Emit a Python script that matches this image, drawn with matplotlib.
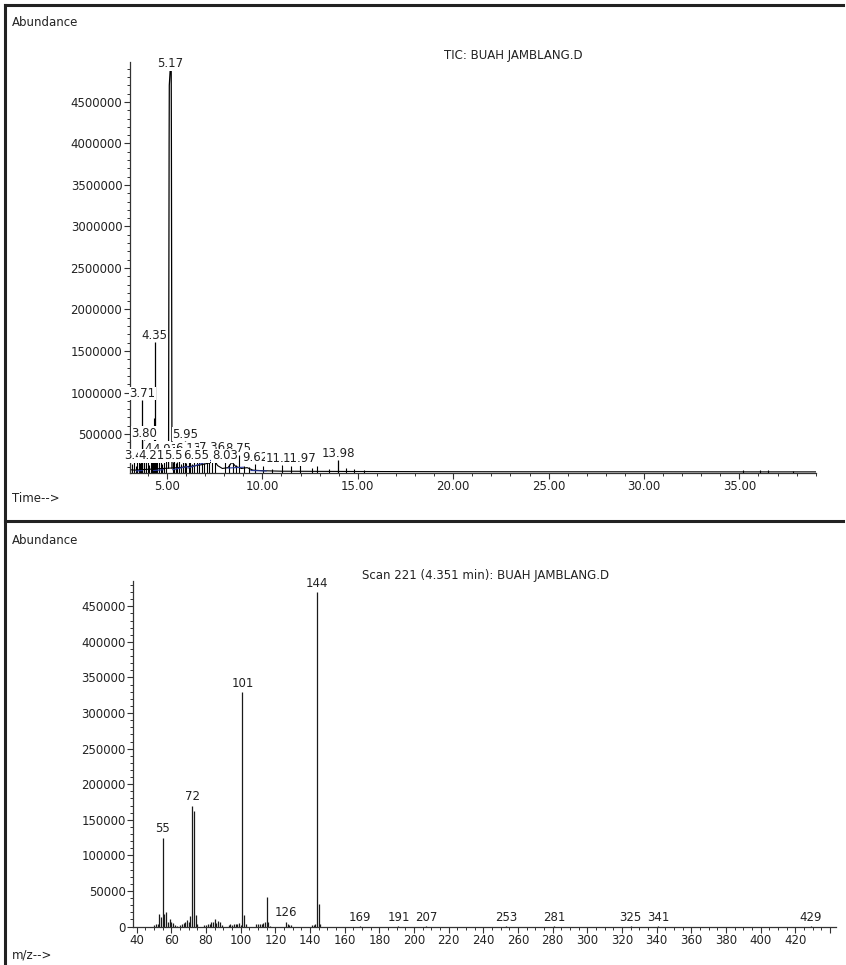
import numpy as np
import matplotlib.pyplot as plt
from matplotlib.lines import Line2D
from matplotlib.ticker import MultipleLocator, FormatStrFormatter, FuncFormatter

plt.rcParams['font.family'] = ['DejaVu Sans']

# ---- TIC chromatogram (top) ----
base_times = [3.05, 3.3, 3.6, 4.0, 4.4, 4.8, 5.2, 5.6, 6.0, 6.4, 6.8, 7.2, 7.5, 7.65, 7.9, 8.2, 8.4,
              8.6, 8.9, 9.2, 9.5, 10.0, 11.0, 13.0, 16.0, 20.0, 25.0, 30.0, 35.0, 39.0]
base_vals = [70000, 65000, 70000, 75000, 80000, 85000, 90000, 95000, 105000, 115000, 130000, 150000,
             175000, 120000, 85000, 95000, 160000, 110000, 85000, 95000, 65000, 58000, 52000, 50000,
             48000, 46000, 45000, 45000, 44000, 44000]

main_peak_times = [5.08, 5.11, 5.12, 5.17, 5.22, 5.23, 5.26]
main_peak_vals = [90000, 4000000, 4700000, 4900000, 4870000, 4000000, 90000]

noise_times = [3.08, 3.18, 3.27, 3.36, 3.52, 3.60, 3.66, 3.90, 3.98, 4.06, 4.14, 4.28, 4.31, 4.42,
               4.58, 4.66, 4.74, 4.82, 5.30, 5.38, 5.46, 5.64, 5.72, 5.82, 6.02, 6.22, 6.32, 6.44,
               6.70, 6.82, 6.95, 7.10, 7.22, 7.50, 8.25, 8.45, 8.60, 9.05, 9.30, 10.05, 10.50,
               11.50, 12.60, 12.85, 13.50, 14.40, 14.80, 15.30, 35.20, 36.10, 36.50, 37.80]
noise_vals = [180000, 140000, 210000, 120000, 230000, 150000, 190000, 170000, 240000, 130000,
              200000, 280000, 690000, 220000, 180000, 250000, 140000, 200000, 160000, 190000,
              150000, 170000, 140000, 160000, 150000, 180000, 140000, 170000, 160000, 180000,
              150000, 190000, 170000, 200000, 140000, 150000, 130000, 110000, 100000, 120000,
              75000, 110000, 85000, 120000, 80000, 90000, 75000, 70000, 65000, 70000, 62000, 60000]

blue_t0 = [3.40, 4.30, 5.30, 6.10, 8.20, 9.40]
blue_t1 = [3.70, 4.80, 6.10, 7.40, 9.00, 10.20]
blue_y0 = [55000, 60000, 70000, 90000, 90000, 60000]
blue_y1 = [60000, 70000, 110000, 190000, 100000, 55000]

# labelled peaks, in three overlapping rows
row_b_times = [4.48, 4.93, 6.13, 7.36, 8.75]
row_b_vals = [250000, 240000, 245000, 255000, 250000]
row_a_times = [3.44, 4.21, 5.53, 6.55, 8.03, 9.62, 11.04, 11.97]
row_a_vals = [160000, 160000, 165000, 160000, 160000, 140000, 130000, 125000]
row_c_times = [3.71, 3.80, 4.35, 5.17, 5.95, 13.98]
row_c_vals = [910000, 430000, 1610000, 4880000, 420000, 190000]

# ---- Mass spectrum, scan 221 (bottom) ----
mz = [50, 51, 52, 53, 54, 55, 56, 57, 58, 59, 60, 61, 62, 63, 65, 66, 67, 68, 69, 70, 71, 72, 73,
      74, 75, 79, 80, 81, 82, 83, 84, 85, 86, 87, 88, 89, 93, 94, 95, 96, 97, 98, 99, 100, 101,
      102, 103, 109, 110, 111, 112, 113, 114, 115, 116, 117, 126, 127, 128, 129, 141, 142, 143,
      144, 145, 146, 169, 191, 207, 253, 281, 325, 341, 429]
intensity = [2000, 3000, 3000, 17000, 13000, 125000, 17000, 21000, 6000, 10000, 7000, 5000, 2000,
             1000, 2000, 3000, 5000, 7000, 9000, 6000, 15000, 170000, 163000, 16000, 3000, 1500,
             2000, 3000, 4000, 6000, 6000, 11000, 5000, 8000, 7000, 2000, 2000, 3000, 2000, 3000,
             4000, 3000, 5000, 2000, 330000, 16000, 3000, 3000, 3000, 4000, 3000, 5000, 6000,
             41000, 6000, 1000, 7000, 3000, 2000, 1500, 2000, 2000, 3000, 470000, 31000, 4000,
             800, 800, 1200, 600, 800, 500, 600, 700]
mz_labels = [55, 72, 101, 126, 144, 169, 191, 207, 253, 281, 325, 341, 429]

FS = 8.5
TXT = '#222222'

fig = plt.figure(figsize=(8.46, 9.65), dpi=100)

# page frame
fig.add_artist(Line2D([5 / 846, 5 / 846], [0, 1 - 5 / 965], transform=fig.transFigure, color='#222222', lw=2.2))
fig.add_artist(Line2D([5 / 846, 843 / 846], [1 - 5 / 965, 1 - 5 / 965], transform=fig.transFigure, color='#222222', lw=2.2))
fig.add_artist(Line2D([5 / 846, 843 / 846], [1 - 521 / 965, 1 - 521 / 965], transform=fig.transFigure, color='#222222', lw=2.2))


def style_axes(ax):
    for s in ['top', 'right']:
        ax.spines[s].set_visible(False)
    for s in ['left', 'bottom']:
        ax.spines[s].set_color('#333333')
        ax.spines[s].set_linewidth(0.9)
    ax.tick_params(which='major', direction='out', length=4, width=0.8, color='#333333',
                   labelsize=FS, labelcolor=TXT, pad=1.5)
    ax.tick_params(which='minor', direction='out', length=2, width=0.7, color='#333333')


# top panel
ax1 = fig.add_axes([130 / 846, 1 - 472.7 / 965, (815.7 - 130) / 846, (472.7 - 61.7) / 965])
style_axes(ax1)
ax1.plot(base_times, base_vals, color='black', lw=0.8)
ax1.vlines(noise_times, 0, noise_vals, color='black', lw=0.8)
ax1.vlines(row_a_times + row_b_times, 0, row_a_vals + row_b_vals, color='black', lw=0.8)
ax1.vlines([t for t in row_c_times if t != 5.17], 0, [v for t, v in zip(row_c_times, row_c_vals) if t != 5.17],
           color='black', lw=0.9)
ax1.plot(main_peak_times, main_peak_vals, color='black', lw=0.9)
for a, b, c, d in zip(blue_t0, blue_t1, blue_y0, blue_y1):
    ax1.plot([a, b], [c, d], color='#2a3a9a', lw=0.8)
ax1.set_xlim(3.06, 39.0)
ax1.set_ylim(34000, 4985000)
ax1.xaxis.set_major_locator(MultipleLocator(5))
ax1.xaxis.set_minor_locator(MultipleLocator(1))
ax1.xaxis.set_major_formatter(FormatStrFormatter('%.2f'))
ax1.yaxis.set_major_locator(MultipleLocator(500000))
ax1.yaxis.set_minor_locator(MultipleLocator(100000))
ax1.yaxis.set_major_formatter(FormatStrFormatter('%d'))

for zo, times, vals in [(3.0, row_b_times, row_b_vals), (3.1, row_a_times, row_a_vals),
                        (3.2, row_c_times, row_c_vals)]:
    for t, v in zip(times, vals):
        ax1.text(t, v, f'{t:.2f}', ha='center', va='bottom', fontsize=FS, color=TXT, zorder=zo,
                 clip_on=False, bbox=dict(fc='white', ec='none', pad=0.3))

fig.text(12 / 846, 1 - 22 / 965, 'Abundance', fontsize=FS, color=TXT, va='center', ha='left')
fig.text(513 / 846, 1 - 55 / 965, 'TIC: BUAH JAMBLANG.D', fontsize=FS, color=TXT, va='center', ha='center')
fig.text(12 / 846, 1 - 499 / 965, 'Time-->', fontsize=FS, color=TXT, va='center', ha='left')

# bottom panel
ax2 = fig.add_axes([133.3 / 846, 1 - 926.5 / 965, (836 - 133.3) / 846, (926.5 - 580.7) / 965])
style_axes(ax2)
ax2.vlines(mz, 0, intensity, color='#1a1a1a', lw=0.9)
ax2.set_xlim(38, 443.5)
ax2.set_ylim(0, 486000)
ax2.xaxis.set_major_locator(MultipleLocator(20))
ax2.xaxis.set_minor_locator(MultipleLocator(5))
ax2.xaxis.set_major_formatter(FuncFormatter(lambda v, p: '' if v > 430 else f'{v:.0f}'))
ax2.yaxis.set_major_locator(MultipleLocator(50000))
ax2.yaxis.set_minor_locator(MultipleLocator(10000))
ax2.yaxis.set_major_formatter(FormatStrFormatter('%d'))

for m in mz_labels:
    ax2.annotate(str(m), (m, intensity[mz.index(m)]), xytext=(0, 1.5), textcoords='offset points',
                 ha='center', va='bottom', fontsize=FS, color=TXT)

fig.text(12 / 846, 1 - 541 / 965, 'Abundance', fontsize=FS, color=TXT, va='center', ha='left')
fig.text(486 / 846, 1 - 575 / 965, 'Scan 221 (4.351 min): BUAH JAMBLANG.D', fontsize=FS, color=TXT,
         va='center', ha='center')
fig.text(12 / 846, 1 - 955 / 965, 'm/z-->', fontsize=FS, color=TXT, va='center', ha='left')

fig.savefig('out.png', dpi=100, facecolor='white')
